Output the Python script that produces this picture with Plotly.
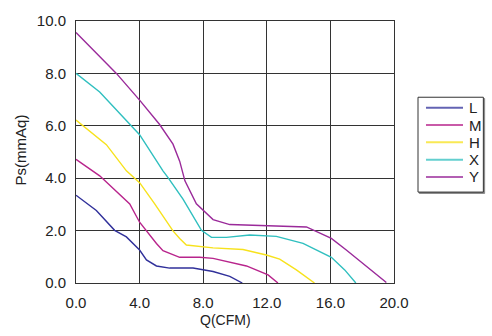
import plotly.graph_objects as go

# Fan P-Q curves for five speed grades
q_L = [0.0, 1.28, 2.43, 3.17, 4.0, 4.43, 5.06, 5.89, 7.36, 7.78, 8.62, 9.67, 10.46]
ps_L = [3.35, 2.77, 2.01, 1.76, 1.26, 0.88, 0.65, 0.57, 0.57, 0.52, 0.44, 0.25, 0.0]

q_M = [0.0, 1.49, 3.38, 4.0, 5.06, 5.47, 6.52, 7.78, 8.62, 10.72, 12.08, 12.7]
ps_M = [4.72, 4.09, 3.02, 2.32, 1.51, 1.23, 0.98, 0.98, 0.94, 0.65, 0.31, 0.0]

q_H = [0.0, 1.91, 3.17, 4.0, 4.95, 6.1, 6.52, 6.94, 8.62, 10.5, 11.97, 12.81, 13.86, 15.0]
ps_H = [6.22, 5.28, 4.28, 3.83, 3.02, 1.99, 1.70, 1.45, 1.34, 1.28, 1.07, 0.91, 0.5, 0.0]

q_X = [0.0, 1.49, 4.0, 5.06, 5.47, 5.79, 6.73, 7.89, 8.52, 9.46, 10.92, 12.6, 14.28, 16.06, 16.9, 17.6]
ps_X = [8.0, 7.29, 5.66, 4.65, 4.28, 4.02, 3.2, 2.01, 1.74, 1.74, 1.83, 1.78, 1.51, 0.98, 0.5, 0.0]

q_Y = [0.0, 2.54, 4.0, 5.26, 6.1, 6.52, 6.85, 7.57, 8.62, 9.67, 14.49, 16.06, 17.0, 19.52]
ps_Y = [9.56, 8.0, 6.98, 6.05, 5.3, 4.65, 3.9, 3.02, 2.42, 2.23, 2.14, 1.70, 1.26, 0.02]

names = ["L", "M", "H", "X", "Y"]
colors = ["#30309a", "#b8248c", "#f7e21c", "#2fbfbf", "#9a2a9a"]
series = [(q_L, ps_L), (q_M, ps_M), (q_H, ps_H), (q_X, ps_X), (q_Y, ps_Y)]

x_ticks = [0, 4, 8, 12, 16, 20]
y_ticks = [0, 2, 4, 6, 8, 10]

font = "Liberation Sans, Arial, sans-serif"
ink = "#222222"

fig = go.Figure()
for name, color, (q, ps) in zip(names, colors, series):
    fig.add_trace(go.Scatter(x=q, y=ps, mode="lines", name=name,
                             line=dict(color=color, width=1.4)))

axis_common = dict(showgrid=True, gridcolor="#333333", gridwidth=1,
                   showline=True, linecolor="#333333", linewidth=1, mirror=True,
                   zeroline=False, ticks="", tickformat=".1f",
                   tickfont=dict(family=font, size=15, color=ink))

fig.update_xaxes(range=[0, 20], tickvals=x_ticks, ticklabelstandoff=6, **axis_common)
fig.update_yaxes(range=[0, 10], tickvals=y_ticks, ticklabelstandoff=6, **axis_common)

# Axis titles
fig.add_annotation(text="Q(CFM)", xref="paper", yref="paper", x=0.469, y=-0.143,
                   xanchor="center", yanchor="middle", showarrow=False,
                   font=dict(family=font, size=14, color=ink))
fig.add_annotation(text="Ps(mmAq)", xref="paper", yref="paper", x=-0.176, y=0.506,
                   xanchor="center", yanchor="middle", showarrow=False, textangle=-90,
                   font=dict(family=font, size=15, color=ink))

# Legend box drawn in paper coordinates
lx0, lx1, ly0, ly1 = 1.0755, 1.281, 0.347, 0.709
fig.add_shape(type="rect", xref="paper", yref="paper", x0=lx0 + 0.004, x1=lx1 + 0.004,
              y0=ly0 - 0.005, y1=ly1 - 0.005, line=dict(color="#888888", width=1),
              fillcolor="#888888", layer="above")
fig.add_shape(type="rect", xref="paper", yref="paper", x0=lx0, x1=lx1, y0=ly0, y1=ly1,
              line=dict(color="#333333", width=1), fillcolor="white", layer="above")
row_step = 17.5 / 265
for i, (name, color) in enumerate(zip(names, colors)):
    yy = 0.669 - i * row_step
    fig.add_shape(type="line", xref="paper", yref="paper", x0=1.1006, x1=1.217,
                  y0=yy, y1=yy, line=dict(color=color, width=2), opacity=0.75, layer="above")
    fig.add_annotation(text=name, xref="paper", yref="paper", x=1.228, y=yy,
                       xanchor="left", yanchor="middle", showarrow=False,
                       font=dict(family=font, size=15, color=ink))

fig.update_layout(
    width=492, height=336,
    margin=dict(l=76, r=98, t=18, b=53),
    paper_bgcolor="white", plot_bgcolor="white",
    font=dict(family=font, size=15, color=ink),
    showlegend=False,
)

fig.write_html("out.html")
